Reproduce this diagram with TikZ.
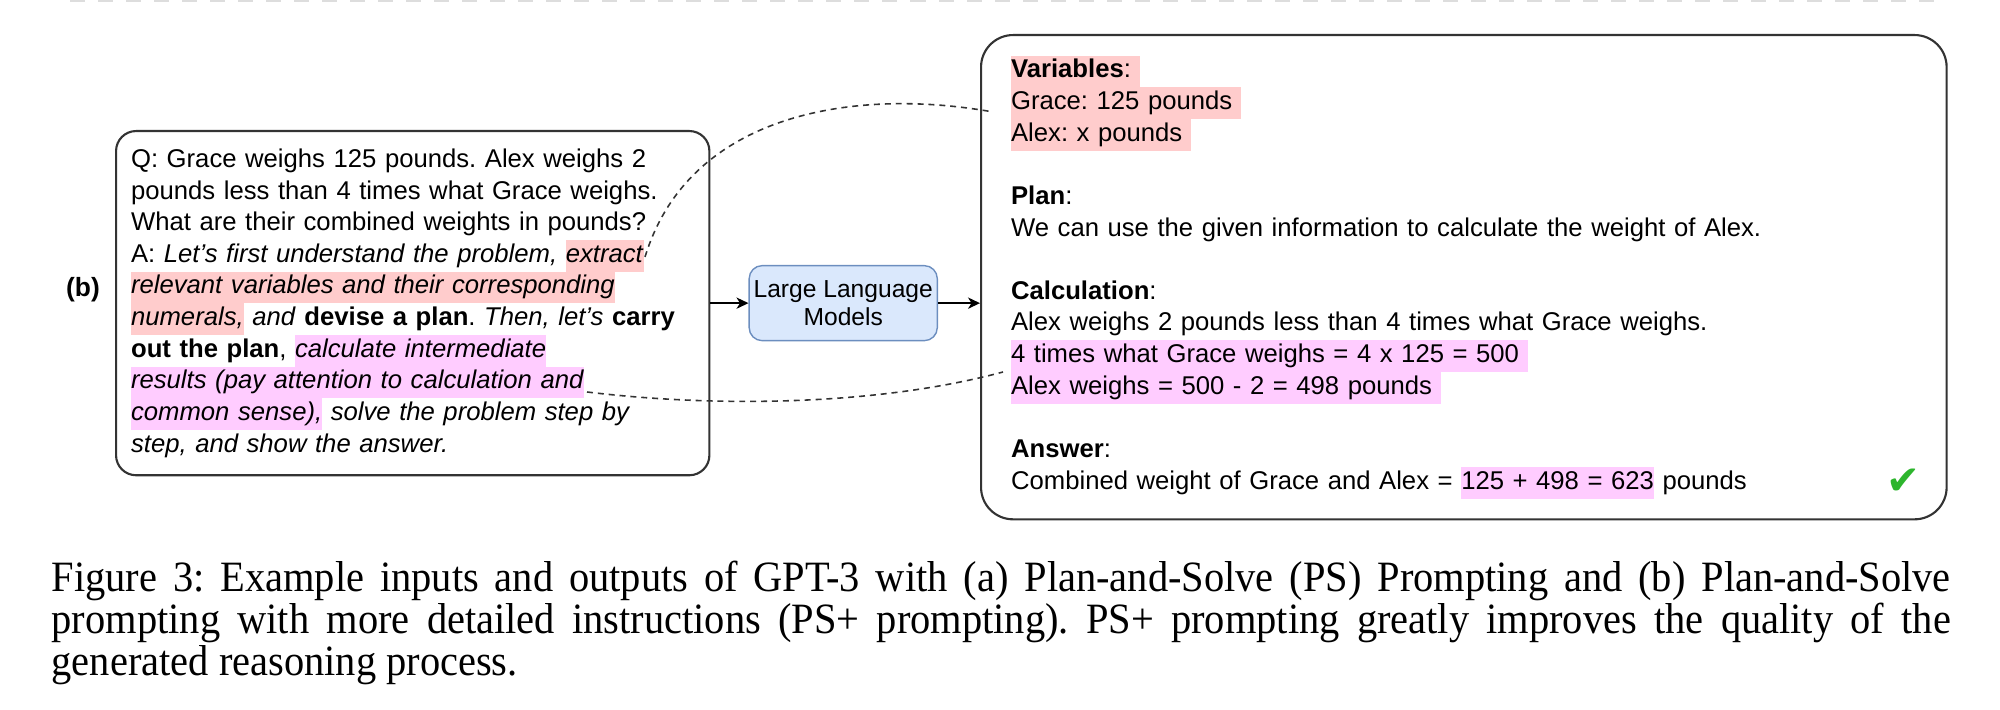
\documentclass[tikz,border=0pt]{standalone}
\usepackage{fontspec}
\setmainfont{Liberation Sans}
\newfontfamily\capfont[FakeStretch=0.935]{Liberation Serif}
\newfontfamily\symfont{DejaVu Sans}
\usetikzlibrary{arrows.meta,positioning}

\definecolor{hlred}{HTML}{FFCCCC}
\definecolor{hlpink}{HTML}{FFCCFF}
\definecolor{llmfill}{HTML}{DAE8FC}
\definecolor{llmdraw}{HTML}{6C8EBF}
\definecolor{okgreen}{HTML}{2DB52D}
\definecolor{sepgray}{HTML}{DDDDDD}

\newcommand{\hlr}[1]{{\setlength{\fboxsep}{0pt}\colorbox{hlred}{\strut #1}}}
\newcommand{\hlp}[1]{{\setlength{\fboxsep}{0pt}\colorbox{hlpink}{\strut #1}}}
\frenchspacing

\begin{document}
\begin{tikzpicture}[
    x=0.01cm, y=-0.01cm,
    inbox/.style={rectangle, rounded corners=0.2cm, draw=black!80, line width=0.6pt, text width=5.63cm, inner xsep=0.15cm, minimum height=3.44cm, align=left, font=\fontsize{7.3}{9}\selectfont},
    outbox/.style={rectangle, rounded corners=0.32cm, draw=black!80, line width=0.6pt, text width=9.05cm, inner xsep=0.3cm, minimum height=4.84cm, align=left, font=\fontsize{7.3}{9}\selectfont},
    llmbox/.style={rectangle, rounded corners=0.13cm, draw=llmdraw, fill=llmfill, line width=0.4pt, minimum width=1.88cm, minimum height=0.75cm, inner sep=0pt, align=center, font=\fontsize{7}{7.7}\selectfont},
    arrow/.style={-{Stealth[length=3.4pt, width=3.2pt, inset=1pt]}, line width=0.5pt, draw=black},
    linkline/.style={draw=black!80, line width=0.45pt, dash pattern=on 1.7pt off 1.4pt},
    captext/.style={text width=18.98cm, inner sep=0pt, align=justify, font=\capfont\fontsize{12.3}{12}\selectfont}
]
\useasboundingbox (0,0) rectangle (2000,710);

% separator from part (a)
\draw[sepgray, line width=0.04cm, dash pattern=on 0.15cm off 0.13cm] (70,0) -- (1945,0);

% === input prompt ===
\node[inbox, anchor=north west] (inbox) at (115,130) {Q: Grace weighs 125 pounds. Alex weighs 2\\
pounds less than 4 times what Grace weighs.\\
What are their combined weights in pounds?\\
A: \textit{Let’s first understand the problem, }\hlr{\textit{extract}}\\
\hlr{\textit{relevant variables and their corresponding}}\\
\hlr{\textit{numerals,}} \textit{and} \textbf{devise a plan}. \textit{Then, let’s} \textbf{carry}\\
\textbf{out the plan}, \hlp{\textit{calculate intermediate}}\\
\hlp{\textit{results (pay attention to calculation and}}\\
\hlp{\textit{common sense),}} \textit{solve the problem step by}\\
\textit{step, and show the answer.}};
\node[font=\fontsize{7.5}{9}\selectfont\bfseries] (tag) at (83,290) {(b)};

% === model ===
\node[llmbox, right=0.38cm of inbox] (llm) {Large Language\\Models};

% === output ===
\node[outbox, anchor=north west] (out) at (980,34) {\hlr{\textbf{Variables}:\ }\\
\hlr{Grace: 125 pounds\ }\\
\hlr{Alex: x pounds\ }\\
\mbox{}\\
\textbf{Plan}:\\
We can use the given information to calculate the weight of Alex.\\
\mbox{}\\
\textbf{Calculation}:\\
Alex weighs 2 pounds less than 4 times what Grace weighs.\\
\hlp{4 times what Grace weighs = 4 x 125 = 500\ }\\
\hlp{Alex weighs = 500 - 2 = 498 pounds\ }\\
\mbox{}\\
\textbf{Answer}:\\
Combined weight of Grace and Alex = \hlp{125 + 498 = 623} pounds};
\node[text=okgreen, font=\symfont\fontsize{11.5}{11.5}\selectfont] (ok) at (1903,482) {✔};

% arrows
\draw[arrow] (inbox.east) -- (llm.west);
\draw[arrow] (llm.east) -- (llm.east -| out.west);

% dashed links between prompt and output
\coordinate (extract-end) at (645,257);
\coordinate (grace-left) at (993,112);
\coordinate (calc-end) at (587,392);
\coordinate (times-left) at (1003,372);
\draw[linkline] (extract-end) .. controls (690,110) and (860,88) .. (grace-left);
\draw[linkline] (calc-end) .. controls (720,408) and (880,405) .. (times-left);

% caption
\node[captext, anchor=north west] (caption) at (51,560) {Figure 3: Example inputs and outputs of GPT-3 with (a) Plan-and-Solve (PS) Prompting and (b) Plan-and-Solve\linebreak
prompting with more detailed instructions (PS+ prompting). PS+ prompting greatly improves the quality of the\linebreak
generated reasoning process.};

\end{tikzpicture}
\end{document}
